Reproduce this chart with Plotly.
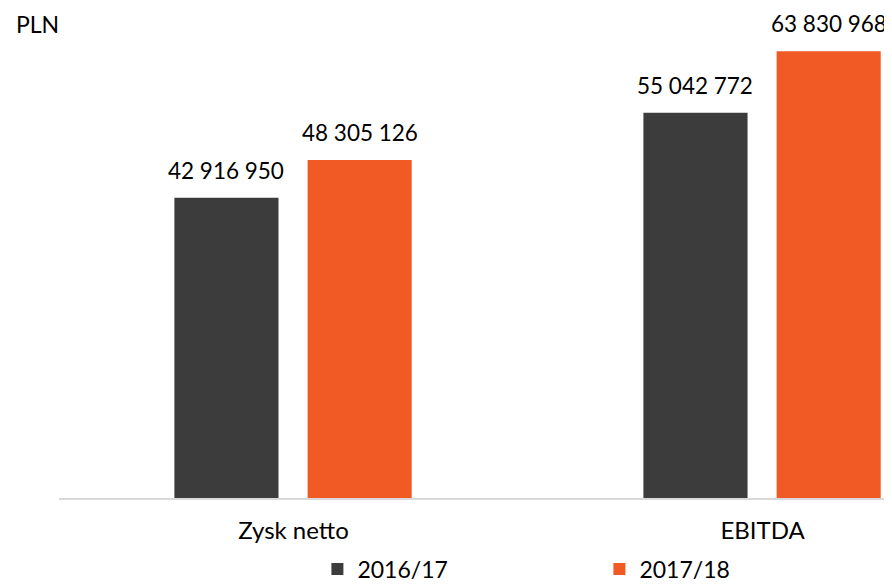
import plotly.graph_objects as go

categories = ["Zysk netto", "EBITDA"]
series_names = ["2016/17", "2017/18"]
values_2016 = [42916950, 55042772]
values_2017 = [48305126, 63830968]
colors = ["#3c3c3c", "#f15a24"]
offsets = [-0.254, 0.030]
bar_width = 0.222

fig = go.Figure()
annotations = []
for name, vals, col, off in zip(series_names, [values_2016, values_2017], colors, offsets):
    fig.add_trace(go.Bar(
        x=categories, y=vals, name=name,
        marker=dict(color=col, line=dict(width=0)),
        width=bar_width, offset=off,
    ))
    for i, v in enumerate(vals):
        annotations.append(dict(
            x=i + off + bar_width / 2, y=v, xref="x", yref="y",
            text=f"{v:,}".replace(",", " "),
            showarrow=False, yanchor="bottom", xanchor="center", yshift=12,
            font=dict(family="Lato", size=22.5, color="#000000"),
        ))

annotations.append(dict(
    text="PLN", xref="paper", yref="paper", x=-0.054, y=0.967,
    xanchor="left", yanchor="middle", showarrow=False,
    font=dict(family="Lato", size=23, color="#000000"),
))

fig.update_layout(
    width=884, height=580,
    margin=dict(l=51, r=0, t=0, b=90),
    paper_bgcolor="white", plot_bgcolor="white",
    barmode="overlay",
    font=dict(family="Lato", size=24, color="#000000"),
    showlegend=True,
    legend=dict(
        orientation="h", xref="container", yref="container",
        x=0.350, xanchor="left", y=0.0328, yanchor="middle",
        entrywidth=237, font=dict(size=23, family="Lato"),
        itemclick=False,
    ),
    xaxis=dict(
        type="category", range=[-0.5, 1.276],
        showline=True, linecolor="#d9d9d9", linewidth=2,
        ticks="", showgrid=False, ticklabelstandoff=10,
        tickfont=dict(family="Lato", size=24, color="#000000"),
    ),
    yaxis=dict(range=[0, 70030000], visible=False, showgrid=False),
    annotations=annotations,
)

fig.write_html("out.html")
